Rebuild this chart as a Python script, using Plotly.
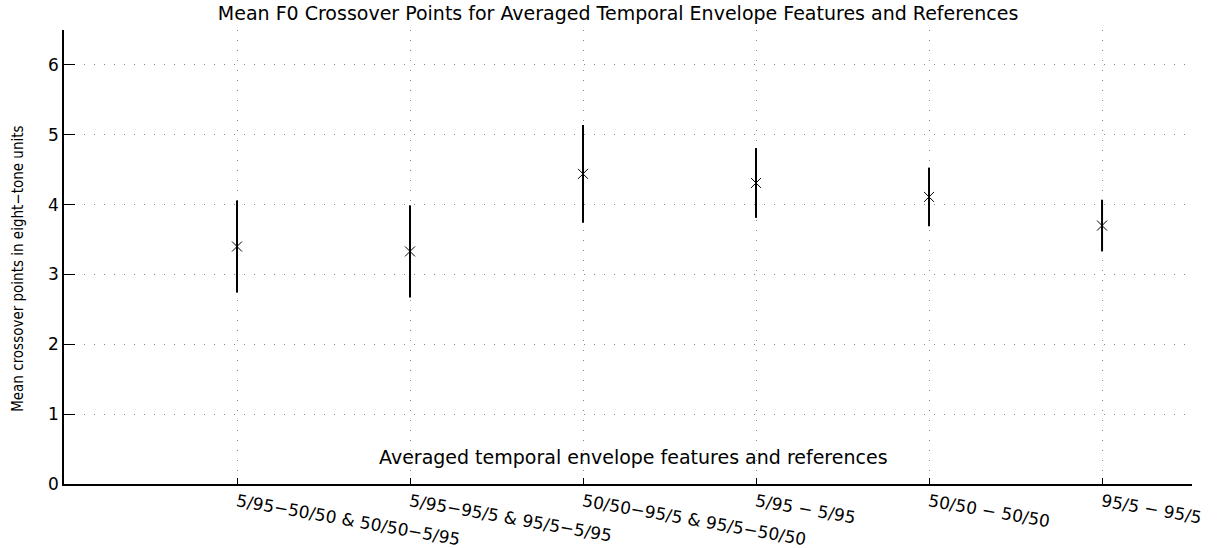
import plotly.graph_objects as go

categories = ["5/95−50/50 & 50/50−5/95", "5/95−95/5 & 95/5−5/95",
              "50/50−95/5 & 95/5−50/50", "5/95 − 5/95", "50/50 − 50/50", "95/5 − 95/5"]
positions = [1, 2, 3, 4, 5, 6]
means = [3.40, 3.33, 4.44, 4.31, 4.11, 3.70]
errors = [0.66, 0.66, 0.70, 0.50, 0.42, 0.37]
y_ticks = [0, 1, 2, 3, 4, 5, 6]

fig = go.Figure()
fig.add_trace(go.Scatter(
    x=positions, y=means, mode="markers",
    marker=dict(symbol="x-thin-open", size=10, color="black",
                line=dict(color="black", width=1)),
    error_y=dict(type="data", array=errors, visible=True,
                 color="black", thickness=2, width=0),
    showlegend=False,
))

hfont = "DejaVu Sans, Liberation Sans, Arial"
fig.update_layout(
    width=1224, height=548,
    margin=dict(l=64, r=32, t=30, b=64),
    paper_bgcolor="white", plot_bgcolor="white",
    title=dict(text="Mean F0 Crossover Points for Averaged Temporal Envelope Features and References",
               x=0.505, xanchor="center", y=1 - 13 / 548, yanchor="middle",
               yref="container", font=dict(family=hfont, size=19, color="black")),
    xaxis=dict(range=[0, 6.52], tickmode="array", tickvals=positions, ticktext=categories,
               tickangle=10, ticks="inside", ticklen=6, tickcolor="black", automargin=False,
               showline=True, linecolor="black", linewidth=1.5,
               showgrid=True, gridcolor="#888888", griddash="1px,9px", gridwidth=1,
               zeroline=False, tickfont=dict(family=hfont, size=17, color="black")),
    yaxis=dict(range=[0, 6.5], tickmode="array", tickvals=y_ticks, automargin=False,
               ticks="inside", ticklen=11, tickcolor="black",
               showline=True, linecolor="black", linewidth=1.5,
               showgrid=True, gridcolor="#888888", griddash="1px,9px", gridwidth=1,
               zeroline=False, tickfont=dict(family=hfont, size=17, color="black")),
    annotations=[
        dict(text="Averaged temporal envelope features and references",
             x=0.505, xref="paper", y=0.39, yref="y", xanchor="center", yanchor="middle",
             showarrow=False, font=dict(family=hfont, size=19, color="black")),
        dict(text="Mean crossover points in eight−tone units", textangle=-90,
             x=-0.0408, xref="paper", y=3.08, yref="y", xanchor="center", yanchor="middle",
             showarrow=False,
             font=dict(family="Liberation Sans Narrow, DejaVu Sans Condensed, Arial", size=15, color="black")),
    ],
)

fig.write_html("out.html")
